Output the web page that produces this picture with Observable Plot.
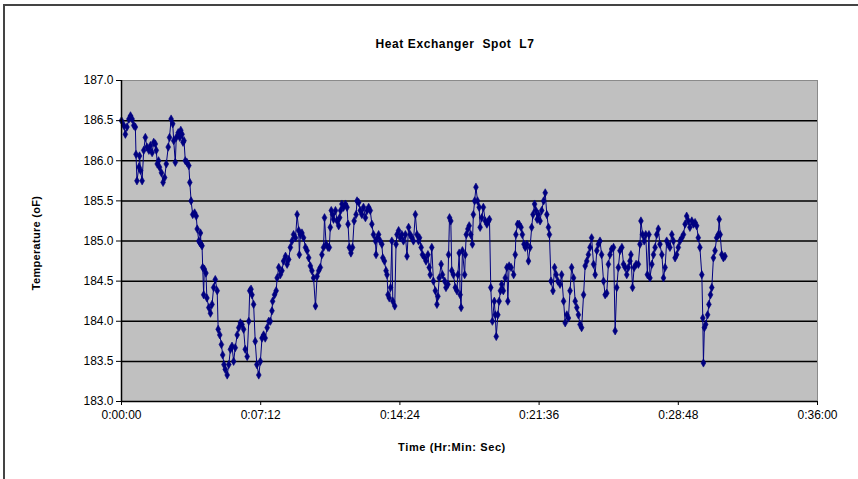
<!DOCTYPE html>
<html>
<head>
<meta charset="utf-8">
<script src="https://cdn.jsdelivr.net/npm/d3@7"></script>
<script src="https://cdn.jsdelivr.net/npm/@observablehq/plot@0.6"></script>
<style>
  html, body { margin: 0; padding: 0; background: white; }
  #chart { width: 858px; height: 479px; overflow: hidden; }
</style>
</head>
<body>
<div id="chart"></div>
<script>
const title = "Heat Exchanger  Spot  L7";
const xLabel = "Time (Hr:Min: Sec)";
const yLabel = "Temperature (oF)";

// x tick positions in seconds (0:00:00 ... 0:36:00)
const xTicks = [0, 432, 864, 1296, 1728, 2160];
const yTicks = [183.0, 183.5, 184.0, 184.5, 185.0, 185.5, 186.0, 186.5, 187.0];

// elapsed time (s)
const times = [
0,7,12,17,23,28,33,38,43,45,48,54,56,59,64,69,74,79,85,90,95,100,105,108,111,115,118,124,129,134,139,145,149,154,159,162,167,170,176,181,184,188,191,194,198,203,209,212,216,221,227,232,235,240,243,245,247,250,252,255,257,262,265,271,276,281,286,291,297,300,305,310,314,318,322,328,333,338,343,348,353,359,364,369,374,379,384,390,395,398,402,405,410,415,420,426,431,436,441,446,452,457,
462,467,469,475,480,483,488,493,498,503,509,514,519,524,529,534,540,545,550,552,555,560,565,571,576,581,586,591,596,602,607,612,617,622,627,630,635,641,645,648,651,655,658,664,669,674,677,680,684,689,695,700,703,707,712,717,722,728,731,736,741,746,751,757,762,767,772,777,782,788,790,794,798,803,808,811,816,821,824,827,831,835,839,842,848,852,855,860,865,870,875,881,886,891,896,901,906,912,917,922,
925,930,934,941,945,951,955,958,963,968,974,979,982,986,992,996,1003,1007,1013,1015,1018,1022,1025,1030,1036,1041,1044,1048,1051,1054,1058,1065,1067,1070,1075,1079,1084,1089,1092,1096,1100,1105,1110,1113,1118,1123,1129,1134,1139,1142,1146,1151,1157,1160,1163,1168,1172,1176,1180,1185,1191,1196,1199,1203,1209,1217,1222,1224,1229,1234,1240,1244,1249,1253,1258,1263,1268,1273,1277,1282,1286,1290,1294,1299,1304,1310,1315,1320,1325,1328,1333,1339,1344,1349,1354,1361,1366,1372,1377,1382,
1387,1392,1397,1403,1408,1413,1418,1423,1428,1434,1439,1444,1449,1454,1459,1465,1470,1475,1480,1485,1490,1496,1501,1506,1511,1516,1521,1527,1532,1537,1542,1547,1553,1558,1563,1568,1573,1578,1581,1586,1591,1597,1604,1609,1612,1617,1622,1627,1632,1637,1640,1646,1651,1656,1661,1666,1671,1677,1682,1687,1692,1697,1702,1708,1713,1718,1723,1728,1733,1739,1744,1749,1754,1759,1764,1770,1775,1780,1785,1790,1795,1801,1804,1806,1809,1813,1819,1823,1828,1832,1837,1842,1847,1852,1855,1858,1863,1868,1873
];

// temperature (°F)
const temps = [
186.50,186.44,186.33,186.42,186.52,186.56,186.52,186.44,186.42,186.08,185.75,185.92,186.06,185.88,185.75,186.13,186.29,186.17,186.13,186.19,186.10,186.23,186.21,186.13,185.96,186.00,185.92,185.85,185.73,185.79,185.96,186.17,186.29,186.52,186.46,186.25,185.98,186.29,186.35,186.29,186.38,186.33,186.23,186.25,186.00,185.98,185.94,185.73,185.50,185.33,185.35,185.31,185.15,185.00,184.98,185.10,184.96,184.94,184.67,184.33,184.65,184.60,184.29,184.17,184.10,184.21,184.42,184.52,184.38,183.90,183.83,183.71,183.58,183.46,183.40,183.33,183.46,183.65,183.69,183.50,183.67,183.83,183.92,183.98,183.96,183.90,183.65,183.56,184.00,184.38,184.40,184.33,184.21,183.75,183.46,183.33,183.50,183.79,183.83,183.79,183.92,184.00,
184.00,184.13,184.25,184.33,184.38,184.54,184.67,184.58,184.63,184.75,184.81,184.71,184.77,184.92,185.00,185.08,185.04,185.33,185.13,184.83,185.08,185.10,185.04,184.92,184.88,184.79,184.69,184.63,184.54,184.19,184.56,184.63,184.67,184.83,184.92,185.29,184.96,184.92,184.92,185.17,185.38,185.33,185.27,185.38,185.25,185.19,185.29,185.38,185.46,185.42,185.46,185.42,185.21,184.92,184.85,184.92,185.25,185.33,185.50,185.48,185.38,185.33,185.42,185.29,185.38,185.42,185.38,185.21,185.08,185.00,184.83,185.04,185.08,185.00,184.96,184.79,184.75,184.63,184.58,184.33,184.29,184.42,185.00,184.25,184.19,184.96,185.08,185.13,185.04,185.08,185.00,185.08,184.81,185.17,185.08,185.04,185.00,185.33,185.08,185.00,
185.04,184.92,184.83,184.79,184.75,184.83,184.67,184.58,184.92,184.50,184.38,184.21,184.31,184.54,184.71,184.58,184.50,184.42,184.46,184.83,185.29,185.25,184.63,184.58,184.42,184.38,184.58,184.85,184.33,184.17,184.88,184.58,184.83,185.08,185.15,185.19,185.08,184.96,185.33,185.50,185.67,185.50,185.42,185.17,185.29,185.42,185.25,185.21,185.25,185.27,184.42,184.00,184.25,184.08,183.81,184.08,184.25,184.38,184.46,184.38,184.54,184.67,184.25,184.69,184.67,184.58,184.83,185.08,185.21,185.21,185.17,185.08,184.96,184.92,184.96,184.75,184.92,185.17,185.33,185.46,185.38,185.27,185.33,185.25,185.38,185.50,185.60,185.33,185.17,185.08,184.50,184.38,184.67,184.58,184.50,184.46,184.58,184.25,183.98,184.08,
184.04,184.38,184.67,184.54,184.25,184.17,184.08,183.96,183.92,184.33,184.69,184.75,184.83,184.92,185.04,184.71,184.58,184.88,184.96,185.00,184.83,184.50,184.33,184.35,184.71,184.83,184.90,184.92,183.88,184.42,184.67,184.88,184.92,184.71,184.67,184.58,184.67,184.75,184.83,184.42,184.67,184.71,184.71,184.96,185.25,185.08,185.00,185.08,184.58,185.08,184.54,184.71,184.83,184.92,185.08,185.15,184.96,184.83,184.54,184.67,185.00,184.96,184.92,185.08,185.00,184.79,184.83,184.92,185.00,185.04,185.08,185.21,185.31,185.25,185.17,185.25,185.21,185.23,185.19,185.04,184.92,184.58,184.04,183.48,183.92,183.96,184.08,184.21,184.33,184.42,184.79,184.88,185.04,185.08,185.27,185.08,184.83,184.79,184.81
];

const data = times.map((t, i) => ({t, v: temps[i]}));

const pad = n => String(n).padStart(2, "0");
const fmtTime = s => `${Math.floor(s / 3600)}:${pad(Math.floor((s % 3600) / 60))}:${pad(s % 60)}`;

const navy = "#000080";

const chart = Plot.plot({
  width: 858,
  height: 479,
  marginLeft: 121,
  marginRight: 41,
  marginTop: 80,
  marginBottom: 78,
  style: {background: "white", fontFamily: "'Liberation Sans', Arial, sans-serif", fontSize: "12px", color: "black"},
  x: {domain: [0, 2160]},
  y: {domain: [183, 187]},
  marks: [
    Plot.frame({fill: "#C0C0C0", stroke: "#8a8a8a", strokeWidth: 1}),
    Plot.ruleY(yTicks.filter(d => d > 183 && d < 187), {stroke: "black", strokeWidth: 1.5}),
    Plot.line(data, {x: "t", y: "v", stroke: navy, strokeWidth: 1}),
    Plot.dot(data, {x: "t", y: "v", symbol: "diamond", r: 2.5, fill: navy, stroke: navy, strokeWidth: 0.6}),
    Plot.ruleX([0], {stroke: "black", strokeWidth: 1.5}),
    Plot.ruleY([183], {stroke: "black", strokeWidth: 1.5}),
    Plot.axisY({ticks: yTicks, tickFormat: d => d.toFixed(1), tickSize: 5, tickPadding: 3, label: null}),
    Plot.axisX({ticks: xTicks, tickFormat: fmtTime, tickSize: 4, tickPadding: 5, label: null})
  ]
});

document.getElementById("chart").appendChild(chart);

const svg = d3.select(chart);
svg.append("rect")
  .attr("x", 4).attr("y", 5).attr("width", 900).attr("height", 520)
  .attr("fill", "none").attr("stroke", "#444").attr("stroke-width", 2);

svg.append("text")
  .attr("x", 455).attr("y", 48)
  .attr("text-anchor", "middle")
  .attr("font-weight", "bold").attr("font-size", 12)
  .attr("letter-spacing", 0.6)
  .style("white-space", "pre")
  .attr("fill", "black")
  .text(title);

svg.append("text")
  .attr("x", 452).attr("y", 451)
  .attr("text-anchor", "middle")
  .attr("font-weight", "bold").attr("font-size", 11)
  .attr("letter-spacing", 0.6)
  .attr("fill", "black")
  .text(xLabel);

svg.append("text")
  .attr("transform", "translate(40,243) rotate(-90)")
  .attr("text-anchor", "middle")
  .attr("font-weight", "bold").attr("font-size", 11)
  .attr("letter-spacing", 0.3)
  .attr("fill", "black")
  .text(yLabel);
</script>
</body>
</html>
